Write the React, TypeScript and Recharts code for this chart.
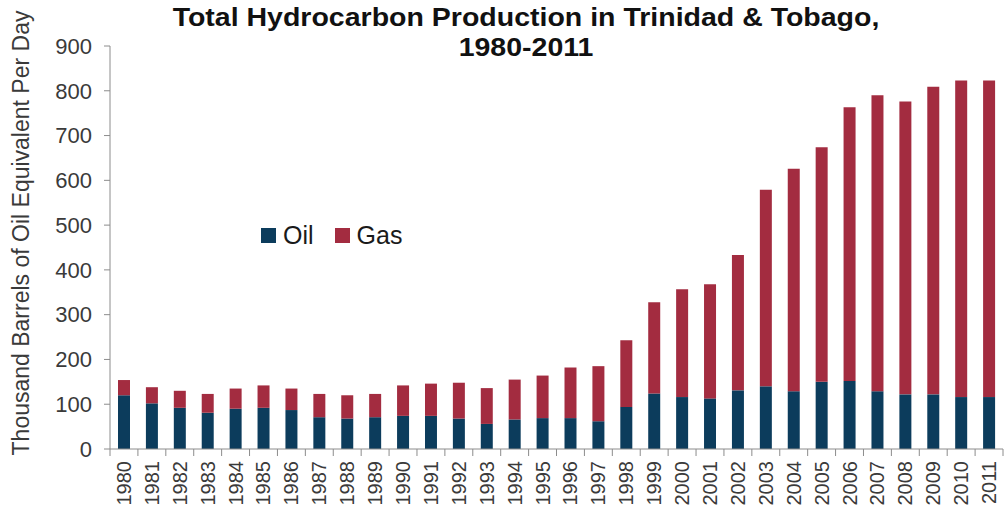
import { BarChart, Bar, XAxis, YAxis } from 'recharts';

const YEARS = [
  '1980', '1981', '1982', '1983', '1984', '1985', '1986', '1987', '1988', '1989',
  '1990', '1991', '1992', '1993', '1994', '1995', '1996', '1997', '1998', '1999',
  '2000', '2001', '2002', '2003', '2004', '2005', '2006', '2007', '2008', '2009',
  '2010', '2011',
];

// thousand barrels of oil equivalent per day
const OIL = [
  120, 102, 92, 81, 90, 92, 87, 71, 68, 71,
  74, 74, 68, 56, 66, 69, 69, 62, 94, 124,
  116, 113, 131, 140, 129, 150, 152, 129, 122, 122,
  116, 116,
];

const TOTAL = [
  154, 138, 130, 123, 135, 142, 135, 123, 120, 123,
  142, 146, 148, 136, 155, 164, 182, 185, 243, 328,
  357, 368, 433, 579, 626, 674, 763, 790, 776, 809,
  823, 823,
];

const Y_TICKS = [0, 100, 200, 300, 400, 500, 600, 700, 800, 900];

const OIL_COLOR = '#0c3c5c';
const GAS_COLOR = '#a32c40';
const AXIS_COLOR = '#8c8c8c';
const FONT = '"Liberation Sans", Arial, sans-serif';

const data = YEARS.map((year, i) => ({
  year,
  oil: OIL[i],
  gas: TOTAL[i] - OIL[i],
}));

const YearTick = (props: any) => {
  const { x, y, payload, index } = props;
  const half = payload?.offset ?? 13.95;
  const ty = y + 12;
  return (
    <g>
      <line x1={x - half} y1={y} x2={x - half} y2={y + 7} stroke={AXIS_COLOR} />
      {index === YEARS.length - 1 && (
        <line x1={x + half} y1={y} x2={x + half} y2={y + 7} stroke={AXIS_COLOR} />
      )}
      <text
        x={x}
        y={ty}
        transform={`rotate(-90, ${x}, ${ty})`}
        textAnchor="end"
        dominantBaseline="central"
        fontSize={20}
        fontFamily={FONT}
        fill="#3a3a3a"
      >
        {payload.value}
      </text>
    </g>
  );
};

const LegendItem = ({ color, label }: { color: string; label: string }) => (
  <div style={{ display: 'flex', alignItems: 'center', marginRight: 21 }}>
    <div style={{ width: 15, height: 15, background: color, marginRight: 7 }} />
    <span>{label}</span>
  </div>
);

export default function App() {
  return (
    <div
      style={{
        position: 'absolute',
        left: 0,
        top: 0,
        width: 1004,
        height: 514,
        background: '#fff',
        fontFamily: FONT,
      }}
    >
      <div
        style={{
          position: 'absolute',
          left: 0,
          top: 2,
          width: 1052,
          textAlign: 'center',
          fontWeight: 'bold',
          fontSize: 25,
          lineHeight: '30px',
          color: '#111',
          transform: 'scaleX(1.14)',
          transformOrigin: '526px 0',
        }}
      >
        Total Hydrocarbon Production in Trinidad &amp; Tobago,
        <br />
        1980-2011
      </div>

      <div
        style={{
          position: 'absolute',
          left: 21 - 250,
          top: 233 - 13,
          width: 500,
          height: 26,
          lineHeight: '26px',
          textAlign: 'center',
          fontSize: 23,
          color: '#3a3a3a',
          transform: 'rotate(-90deg)',
        }}
      >
        Thousand Barrels of Oil Equivalent Per Day
      </div>

      <div
        style={{
          position: 'absolute',
          left: 261,
          top: 220,
          display: 'flex',
          fontSize: 25,
          lineHeight: '30px',
          color: '#1a1a1a',
        }}
      >
        <LegendItem color={OIL_COLOR} label="Oil" />
        <LegendItem color={GAS_COLOR} label="Gas" />
      </div>

      <BarChart
        width={1004}
        height={514}
        data={data}
        margin={{ top: 46, right: 1, bottom: 0, left: 0 }}
        barSize={12}
      >
        <XAxis
          dataKey="year"
          interval={0}
          height={65}
          tickLine={false}
          tickSize={0}
          tickMargin={0}
          axisLine={{ stroke: AXIS_COLOR }}
          tick={<YearTick />}
        />
        <YAxis
          width={110}
          domain={[0, 900]}
          ticks={Y_TICKS}
          interval={0}
          tickSize={6}
          tickMargin={12}
          axisLine={{ stroke: AXIS_COLOR }}
          tickLine={{ stroke: AXIS_COLOR }}
          tick={{ fontSize: 22, fill: '#3a3a3a', fontFamily: FONT }}
        />
        <Bar dataKey="oil" stackId="a" fill={OIL_COLOR} isAnimationActive={false} />
        <Bar dataKey="gas" stackId="a" fill={GAS_COLOR} isAnimationActive={false} />
      </BarChart>
    </div>
  );
}
